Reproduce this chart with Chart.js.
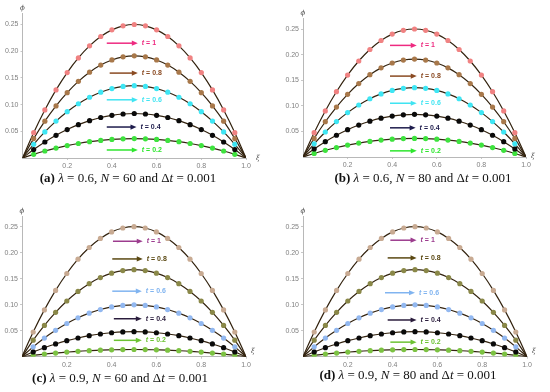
<!DOCTYPE html>
<html>
<head>
<meta charset="utf-8">
<script src="https://cdn.jsdelivr.net/npm/chart.js@4.4.1/dist/chart.umd.min.js"></script>
<style>
  html, body { margin: 0; padding: 0; background: #fff; }
  #wrap { position: relative; width: 550px; height: 392px; overflow: hidden; }
  .panel { position: absolute; width: 275px; height: 196px; }
  .panel canvas { position: absolute; left: 0; top: 0; }
  .cap { position: absolute; white-space: nowrap; font-family: "Liberation Serif", serif; font-size: 13px; color: #111; transform: translate(-50%, -50%); }
  .cap b { font-weight: bold; }
  .cap i { font-style: italic; }
</style>
</head>
<body>
<div id="wrap"></div>
<script>
// ---- data ----
const xi = [0, 0.05, 0.1, 0.15, 0.2, 0.25, 0.3, 0.35, 0.4, 0.45, 0.5, 0.55, 0.6, 0.65, 0.7, 0.75, 0.8, 0.85, 0.9, 0.95, 1];
const tValues = ['1', '0.8', '0.6', '0.4', '0.2'];
const xTicks = [0.2, 0.4, 0.6, 0.8, 1.0];
const yTicks = [0.05, 0.10, 0.15, 0.20, 0.25];

const phi_t1 = [0, 0.0475, 0.09, 0.1275, 0.16, 0.1875, 0.21, 0.2275, 0.24, 0.2475, 0.25, 0.2475, 0.24, 0.2275, 0.21, 0.1875, 0.16, 0.1275, 0.09, 0.0475, 0];
// lambda = 0.6
const phi06_t08 = [0, 0.0363, 0.0689, 0.0976, 0.1224, 0.1435, 0.1607, 0.1741, 0.1836, 0.1894, 0.1913, 0.1894, 0.1836, 0.1741, 0.1607, 0.1435, 0.1224, 0.0976, 0.0689, 0.0363, 0];
const phi06_t06 = [0, 0.0257, 0.0488, 0.0691, 0.0867, 0.1016, 0.1138, 0.1232, 0.1300, 0.1341, 0.1354, 0.1341, 0.1300, 0.1232, 0.1138, 0.1016, 0.0867, 0.0691, 0.0488, 0.0257, 0];
const phi06_t04 = [0, 0.0158, 0.0300, 0.0425, 0.0533, 0.0624, 0.0699, 0.0758, 0.0799, 0.0824, 0.0833, 0.0824, 0.0799, 0.0758, 0.0699, 0.0624, 0.0533, 0.0425, 0.0300, 0.0158, 0];
const phi06_t02 = [0, 0.0069, 0.0131, 0.0185, 0.0232, 0.0272, 0.0305, 0.0330, 0.0348, 0.0359, 0.0363, 0.0359, 0.0348, 0.0330, 0.0305, 0.0272, 0.0232, 0.0185, 0.0131, 0.0069, 0];
// lambda = 0.9
const phi09_t08 = [0, 0.0318, 0.0602, 0.0853, 0.1071, 0.1255, 0.1405, 0.1522, 0.1606, 0.1656, 0.1673, 0.1656, 0.1606, 0.1522, 0.1405, 0.1255, 0.1071, 0.0853, 0.0602, 0.0318, 0];
const phi09_t06 = [0, 0.0189, 0.0359, 0.0508, 0.0638, 0.0748, 0.0837, 0.0907, 0.0957, 0.0987, 0.0997, 0.0987, 0.0957, 0.0907, 0.0837, 0.0748, 0.0638, 0.0508, 0.0359, 0.0189, 0];
const phi09_t04 = [0, 0.0091, 0.0173, 0.0245, 0.0308, 0.0360, 0.0404, 0.0437, 0.0461, 0.0476, 0.0481, 0.0476, 0.0461, 0.0437, 0.0404, 0.0360, 0.0308, 0.0245, 0.0173, 0.0091, 0];
const phi09_t02 = [0, 0.0026, 0.0050, 0.0070, 0.0088, 0.0104, 0.0116, 0.0126, 0.0132, 0.0137, 0.0138, 0.0137, 0.0132, 0.0126, 0.0116, 0.0104, 0.0088, 0.0070, 0.0050, 0.0026, 0];

// arrow annotations (data coordinates)
const arrowY_a = [0.215, 0.159, 0.109, 0.058, 0.015];
const arrowX0_a = [0.377, 0.39, 0.377, 0.377, 0.377];
const arrowX1_a = [0.516, 0.516, 0.516, 0.51, 0.516];
const arrowY_b = [0.218, 0.158, 0.105, 0.057, 0.012];
const arrowX0_b = [0.39, 0.39, 0.39, 0.39, 0.39];
const arrowX1_b = [0.51, 0.51, 0.51, 0.505, 0.51];
const arrowY_c = [0.222, 0.188, 0.126, 0.073, 0.0315];
const arrowX0_c = [0.406, 0.403, 0.403, 0.41, 0.41];
const arrowX1_c = [0.539, 0.539, 0.535, 0.535, 0.535];
const arrowY_d = [0.224, 0.19, 0.123, 0.0706, 0.028];
const arrowX0_d = [0.39, 0.378, 0.366, 0.378, 0.39];
const arrowX1_d = [0.507, 0.507, 0.5, 0.507, 0.507];

const captionLetters = ['a', 'b', 'c', 'd'];
const captionLambda = ['0.6', '0.6', '0.9', '0.9'];
const captionN = ['60', '80', '60', '80'];
const captionDt = '0.001';

// ---- styles ----
const dotColors06 = ['#f08282', '#a8784a', '#3ee6f4', '#0a0a0a', '#3ee23e'];
const arrowColors06 = ['#ee2a80', '#8a4a22', '#40e4f2', '#1e1c4c', '#2ee62e'];
const dotColors09 = ['#c8aa92', '#8a8848', '#92b8f0', '#0a0a0a', '#7cc242'];
const arrowColors09 = ['#9c3c8e', '#5a4812', '#80b4f0', '#2a1c3c', '#6cc232'];

const panels = [
  { left: 0,   top: 0,   x0: 22.5, x1: 246, y0: 158,   y25: 24.5, series: [phi_t1, phi06_t08, phi06_t06, phi06_t04, phi06_t02], dots: dotColors06, arrows: arrowColors06, ay: arrowY_a, ax0: arrowX0_a, ax1: arrowX1_a, capX: 128, capY: 178, phiY: 8,  xiX: 258, xiY: 158 },
  { left: 275, top: 0,   x0: 28,   x1: 251, y0: 157,   y25: 29,   series: [phi_t1, phi06_t08, phi06_t06, phi06_t04, phi06_t02], dots: dotColors06, arrows: arrowColors06, ay: arrowY_b, ax0: arrowX0_b, ax1: arrowX1_b, capX: 148, capY: 178, phiY: 13, xiX: 258, xiY: 156 },
  { left: 0,   top: 196, x0: 22,   x1: 246, y0: 160.7, y25: 30.7, series: [phi_t1, phi09_t08, phi09_t06, phi09_t04, phi09_t02], dots: dotColors09, arrows: arrowColors09, ay: arrowY_c, ax0: arrowX0_c, ax1: arrowX1_c, capX: 120, capY: 182, phiY: 15, xiX: 253, xiY: 155 },
  { left: 275, top: 196, x0: 28,   x1: 252, y0: 160.7, y25: 30.7, series: [phi_t1, phi09_t08, phi09_t06, phi09_t04, phi09_t02], dots: dotColors09, arrows: arrowColors09, ay: arrowY_d, ax0: arrowX0_d, ax1: arrowX1_d, capX: 133, capY: 179, phiY: 15, xiX: 259, xiY: 155 }
];

const Y_MAX = 0.27;
const X_AXIS_H = 14;
const tickFont = { family: 'Liberation Sans, Arial, sans-serif', size: 7 };

function annotPlugin(p) {
  return {
    id: 'annot',
    afterDatasetsDraw(chart) {
      const ctx = chart.ctx;
      const xs = chart.scales.x, ys = chart.scales.y;
      ctx.save();
      for (let i = 0; i < tValues.length; i++) {
        const col = p.arrows[i];
        const y = ys.getPixelForValue(p.ay[i]);
        const xa = xs.getPixelForValue(p.ax0[i]);
        const xb = xs.getPixelForValue(p.ax1[i]);
        const head = 6, hw = 2.6;
        ctx.strokeStyle = col; ctx.fillStyle = col; ctx.lineWidth = 1.5;
        ctx.beginPath(); ctx.moveTo(xa, y); ctx.lineTo(xb - head + 1, y); ctx.stroke();
        ctx.beginPath(); ctx.moveTo(xb, y); ctx.lineTo(xb - head, y - hw); ctx.lineTo(xb - head, y + hw); ctx.closePath(); ctx.fill();
        // label
        let lx = xb + 4;
        ctx.textBaseline = 'middle'; ctx.textAlign = 'left';
        ctx.font = 'italic bold 7px "Liberation Sans", Arial, sans-serif';
        ctx.fillText('t', lx, y);
        lx += ctx.measureText('t').width;
        ctx.font = 'bold 7px "Liberation Sans", Arial, sans-serif';
        ctx.fillText(' = ' + tValues[i], lx, y);
      }
      // axis labels
      ctx.fillStyle = '#555';
      ctx.font = 'italic 7px "DejaVu Serif", serif';
      ctx.textAlign = 'center'; ctx.textBaseline = 'middle';
      ctx.fillText('\u03D5', xs.getPixelForValue(0), p.phiY);
      ctx.fillText('\u03BE', p.xiX, p.xiY);
      ctx.restore();
    }
  };
}

const wrap = document.getElementById('wrap');
panels.forEach((p, idx) => {
  const div = document.createElement('div');
  div.className = 'panel';
  div.style.left = p.left + 'px';
  div.style.top = p.top + 'px';
  const cv = document.createElement('canvas');
  cv.width = 275; cv.height = 196;
  cv.style.width = '275px'; cv.style.height = '196px';
  div.appendChild(cv);
  const cap = document.createElement('div');
  cap.className = 'cap';
  cap.style.left = p.capX + 'px';
  cap.style.top = p.capY + 'px';
  cap.innerHTML = '<b>(' + captionLetters[idx] + ')</b> <i>\u03BB</i> = ' + captionLambda[idx] + ', <i>N</i> = ' + captionN[idx] + ' and \u0394<i>t</i> = ' + captionDt;
  div.appendChild(cap);
  wrap.appendChild(div);

  const perUnit = (p.y0 - p.y25) / 0.25;
  const chartTop = p.y0 - Y_MAX * perUnit;

  const datasets = [];
  p.series.forEach((s, i) => {
    datasets.push({
      data: xi.map((x, k) => ({ x: x, y: s[k] })),
      borderColor: '#33230f', borderWidth: 1.2, tension: 0.4,
      pointRadius: 0, fill: false, order: 1
    });
    datasets.push({
      data: xi.slice(1, -1).map((x, k) => ({ x: x, y: s[k + 1] })),
      showLine: false, pointRadius: 2.6, pointHoverRadius: 2.6,
      pointBackgroundColor: p.dots[i], pointBorderWidth: 0, order: 0
    });
  });

  new Chart(cv, {
    type: 'line',
    data: { datasets: datasets },
    options: {
      responsive: false, animation: false, devicePixelRatio: 1,
      layout: { padding: { left: 0, right: 275 - p.x1, top: chartTop, bottom: 196 - p.y0 - X_AXIS_H } },
      plugins: { legend: { display: false }, tooltip: { enabled: false } },
      scales: {
        x: {
          type: 'linear', min: 0, max: 1,
          afterFit(s) { s.height = X_AXIS_H; },
          afterBuildTicks(s) { s.ticks = xTicks.map(v => ({ value: v })); },
          border: { display: true, color: '#b8b8b8', width: 1 },
          grid: { display: true, drawOnChartArea: false, drawTicks: true, tickLength: 2, color: '#c8c8c8' },
          ticks: { font: tickFont, color: '#808080', padding: 2, maxRotation: 0, callback: v => v.toFixed(1) }
        },
        y: {
          type: 'linear', min: 0, max: Y_MAX,
          afterFit(s) { s.width = p.x0; },
          afterBuildTicks(s) { s.ticks = yTicks.map(v => ({ value: v })); },
          border: { display: true, color: '#b8b8b8', width: 1 },
          grid: { display: true, drawOnChartArea: false, drawTicks: true, tickLength: 2, color: '#c8c8c8' },
          ticks: { font: tickFont, color: '#808080', padding: 2, callback: v => v.toFixed(2) }
        }
      }
    },
    plugins: [annotPlugin(p)]
  });
});
</script>
</body>
</html>
